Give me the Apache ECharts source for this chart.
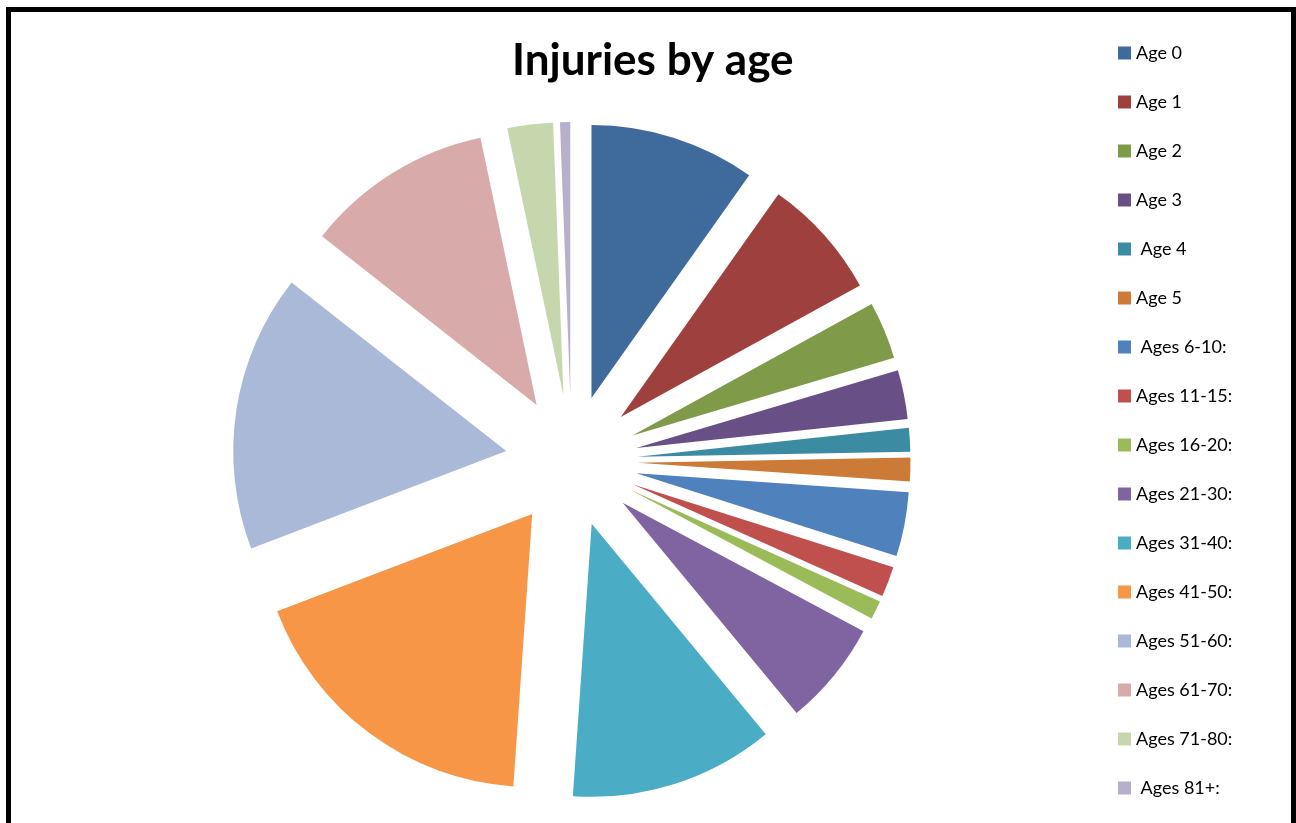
<!DOCTYPE html>
<html>
<head>
<meta charset="utf-8">
<style>
  html, body { margin: 0; padding: 0; background: #fff; }
  #chart { width: 1296px; height: 823px; }
</style>
<script src="https://cdn.jsdelivr.net/npm/echarts@6/dist/echarts.min.js"></script>
</head>
<body>
<div id="chart"></div>
<script>
// Age groups, clockwise from 12 o'clock
const categories = [
  'Age 0', 'Age 1', 'Age 2', 'Age 3', ' Age 4', 'Age 5', ' Ages 6-10:',
  'Ages 11-15:', 'Ages 16-20:', 'Ages 21-30:', 'Ages 31-40:', 'Ages 41-50:',
  'Ages 51-60:', 'Ages 61-70:', 'Ages 71-80:', ' Ages 81+:'
];
// Injury counts per age group
const injuries = [98, 72, 34, 29, 14, 14, 38, 18, 11, 62, 121, 181, 164, 111, 27, 6];
const colors = [
  '#3F6B9C', '#9E413E', '#7F9A48', '#684F86', '#3B8CA2', '#CB7A38', '#4F81BD',
  '#C0504D', '#9BBB59', '#8064A2', '#4BACC6', '#F79646', '#AAB9D8', '#D9AAAA',
  '#C6D7AE', '#B8AFCA'
];

const chart = echarts.init(document.getElementById('chart'), null, { renderer: 'canvas' });

chart.setOption({
  animation: false,
  backgroundColor: '#ffffff',
  color: colors,
  title: {
    text: 'Injuries by age',
    left: 512,
    top: 39,
    padding: 0,
    textStyle: { fontFamily: 'Lato', fontWeight: 'bold', fontSize: 44, color: '#000' }
  },
  legend: {
    orient: 'vertical',
    left: 1118,
    top: 44,
    padding: 0,
    icon: 'rect',
    itemWidth: 13,
    itemHeight: 13,
    itemGap: 31,
    selectedMode: false,
    textStyle: { fontFamily: 'Lato', fontSize: 18, color: '#000', lineHeight: 18 },
    data: categories
  },
  graphic: [{
    type: 'rect',
    z: 100,
    shape: { x: 8.5, y: 9.5, width: 1285, height: 900 },
    style: { fill: 'none', stroke: '#000', lineWidth: 5 }
  }],
  series: [{
    type: 'pie',
    center: [571.5, 461],
    radius: [0, 273],
    startAngle: 90,
    clockwise: true,
    selectedMode: 'multiple',
    selectedOffset: 66,
    label: { show: false },
    labelLine: { show: false },
    emphasis: { disabled: true },
    itemStyle: { borderWidth: 0 },
    data: categories.map((name, i) => ({ name, value: injuries[i], selected: true }))
  }]
});
</script>
</body>
</html>
